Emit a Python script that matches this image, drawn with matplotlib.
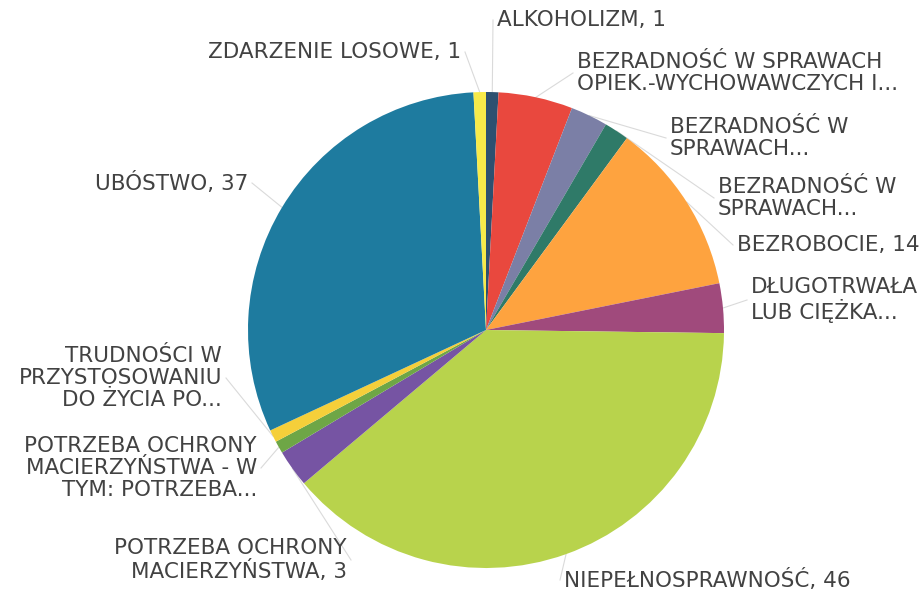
import numpy as np
import matplotlib.pyplot as plt

labels = [
    "ALKOHOLIZM, 1",
    "BEZRADNOŚĆ W SPRAWACH\nOPIEK.-WYCHOWAWCZYCH I...",
    "BEZRADNOŚĆ W\nSPRAWACH...",
    "BEZRADNOŚĆ W\nSPRAWACH...",
    "BEZROBOCIE, 14",
    "DŁUGOTRWAŁA\nLUB CIĘŻKA...",
    "NIEPEŁNOSPRAWNOŚĆ, 46",
    "POTRZEBA OCHRONY\nMACIERZYŃSTWA, 3",
    "POTRZEBA OCHRONY\nMACIERZYŃSTWA - W\nTYM: POTRZEBA...",
    "TRUDNOŚCI W\nPRZYSTOSOWANIU\nDO ŻYCIA PO...",
    "UBÓSTWO, 37",
    "ZDARZENIE LOSOWE, 1",
]
values = [1, 6, 3, 2, 14, 4, 46, 3, 1, 1, 37, 1]
colors = ["#2d5070", "#e9483e", "#7b7fa6", "#2f7a68", "#fea33f", "#a04a7c",
          "#b8d34c", "#7654a3", "#6ea646", "#f5cf3a", "#1e7b9f", "#f7ea4a"]

# label anchors in pixels (x, y from top) and alignment
label_pos = [(497, 20, "left"), (577, 73, "left"), (670, 138, "left"),
             (718, 198, "left"), (737, 245, "left"), (751, 300, "left"),
             (564, 580, "left"), (347, 560, "right"), (257, 468, "right"),
             (222, 378, "right"), (248, 183, "right"), (461, 52, "right")]

W, H = 923, 594
cx, cy, r = 486, H - 330, 238

fig = plt.figure(figsize=(W / 100, H / 100), dpi=100)
ax = fig.add_axes([0, 0, 1, 1])

wedges, _ = ax.pie(values, colors=colors, startangle=90, counterclock=False,
                   center=(cx, cy), radius=r, frame=True,
                   wedgeprops=dict(linewidth=0))
ax.set_xlim(0, W)
ax.set_ylim(0, H)
ax.set_aspect("equal")
ax.axis("off")

for w, lab, (tx, ty, ha) in zip(wedges, labels, label_pos):
    ang = np.deg2rad((w.theta1 + w.theta2) / 2)
    ex = cx + r * np.cos(ang)
    ey = cy + r * np.sin(ang)
    tyd = H - ty
    lx = tx - 4 if ha == "left" else tx + 4
    ax.plot([ex, lx], [ey, tyd], color="#dadada", lw=0.8, zorder=0)
    ax.text(tx, tyd, lab, ha=ha, va="center", fontsize=15.5, color="#424242",
            linespacing=1.1, multialignment=ha)

fig.savefig("out.png", dpi=100)
